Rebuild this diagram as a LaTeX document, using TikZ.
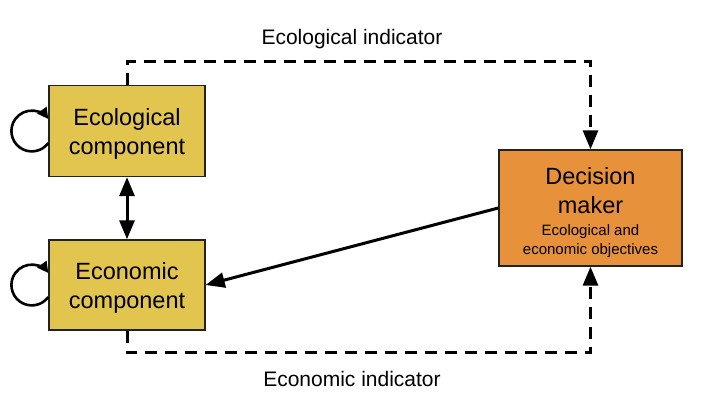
\documentclass[tikz,border=0pt]{standalone}
\usepackage{fontspec}
\setmainfont{Liberation Sans}
\usetikzlibrary{arrows.meta}
\definecolor{compyellow}{RGB}{226,197,78}
\definecolor{dmorange}{RGB}{231,145,58}
\definecolor{boxline}{RGB}{34,34,34}
\begin{document}
\begin{tikzpicture}[x=1pt,y=1pt,
  compbox/.style={draw=boxline, line width=1.4pt, fill=compyellow, minimum width=156pt, minimum height=91pt, inner sep=0pt, align=center, text height=52pt, text depth=5pt, font=\fontsize{23.5}{29}\selectfont},
  dmbox/.style={draw=boxline, line width=1.4pt, fill=dmorange, minimum width=183pt, minimum height=116pt, inner sep=0pt},
  bigtext/.style={align=center, inner sep=0pt, font=\fontsize{23.5}{29}\selectfont},
  smalltext/.style={align=center, inner sep=0pt, font=\fontsize{15}{19}\selectfont},
  lbl/.style={inner sep=0pt, font=\fontsize{21}{25}\selectfont},
  conn/.style={line width=3pt, -{Triangle[length=19pt,width=15pt]}},
  biconn/.style={line width=3pt, {Triangle[length=19pt,width=15pt]}-{Triangle[length=19pt,width=15pt]}},
  dashconn/.style={line width=3pt, dash pattern=on 12pt off 8pt, -{Triangle[length=19pt,width=15pt]}},
  selfloop/.style={line width=2.6pt, -{Triangle[length=11pt,width=11pt]}}
]
\fill[white] (0,0) rectangle (706,414);
\useasboundingbox (0,0) rectangle (706,414);

\node[compbox] (eco) at (127,283) {Ecological\\component};
\node[compbox, minimum height=90pt] (econ) at (127,129) {Economic\\component};
\node[dmbox] (dm) at (590.5,206) {};
\node[bigtext] (dmtitle) at (590.5,223) {Decision\\maker};
\node[smalltext] (dmsub) at (590.5,173) {Ecological and\\economic objectives};

\node[lbl] (ecolbl) at (352,375) {Ecological indicator};
\node[lbl] (econlbl) at (352,35) {Economic indicator};

\coordinate (tl) at (127,352.5);
\coordinate (bl) at (127,61);

\draw[dashconn] (eco.north) -- (tl) -| (dm.north);
\draw[dashconn] (econ.south) -- (bl) -| (dm.south);
\draw[biconn] (eco.south) -- (econ.north);
\draw[conn] (dm.west) -- (econ.east);

\draw[selfloop] ([yshift=-12pt]eco.west) arc[start angle=-36, end angle=-324, radius=20.4pt];
\draw[selfloop] ([yshift=-12pt]econ.west) arc[start angle=-36, end angle=-324, radius=20.4pt];
\end{tikzpicture}
\end{document}
